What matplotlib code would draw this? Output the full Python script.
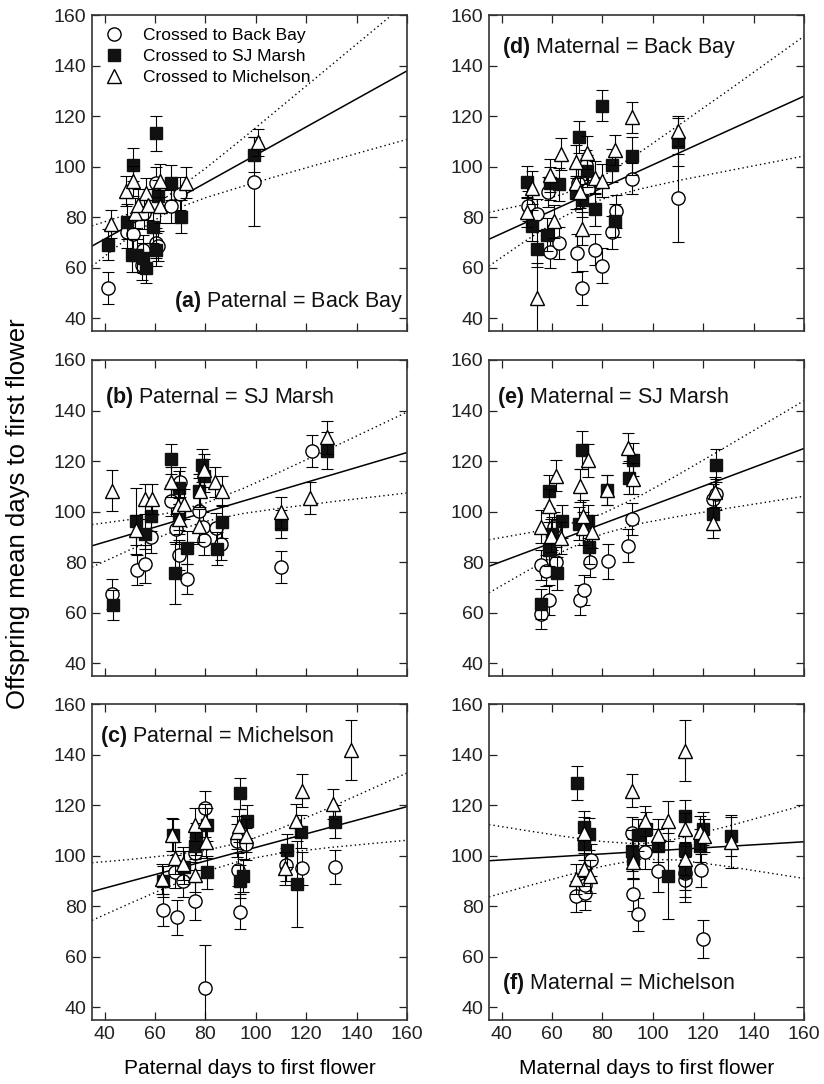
import matplotlib
matplotlib.use("Agg")
import matplotlib.pyplot as plt
from matplotlib.lines import Line2D

plt.rcParams['font.family'] = ['Liberation Sans Narrow', 'Liberation Sans', 'DejaVu Sans']
plt.rcParams['mathtext.fontset'] = 'custom'
plt.rcParams['mathtext.rm'] = 'Liberation Sans'
plt.rcParams['mathtext.bf'] = 'Liberation Sans:bold'

# each point: (parent days to first flower, offspring mean, error)
a_backbay = [(41.3, 52, 6.5), (48.8, 74, 6), (51.2, 73.5, 6), (55.2, 67, 6), (55, 61, 6),
             (55.8, 81.5, 6), (60.4, 93.7, 6), (60.4, 69.8, 6), (61, 68.5, 6), (66.4, 84.4, 6.5),
             (70.1, 89.3, 6.5), (99.4, 94, 17.6)]
a_sjmarsh = [(41.3, 69.2, 6), (48.8, 78.3, 7), (51.2, 100.7, 6.5), (51, 65, 6.5), (53, 65, 6.5),
             (56.5, 60, 6), (55.2, 63.8, 6), (60.4, 113.2, 6.8), (59.1, 76.2, 6.5), (60.4, 67.2, 6.5),
             (61, 88.4, 6.5), (66.4, 93.7, 7), (70.3, 80.2, 6.5), (99.4, 104.7, 7)]
a_michelson = [(42.4, 77.4, 5.5), (48.6, 90.4, 6), (51.2, 94.4, 6), (51.9, 81.7, 6), (53.2, 85, 6),
               (56.5, 89.7, 6), (57.1, 85, 6), (61.8, 94.4, 6.5), (61.8, 84.4, 6.5), (72.3, 93.7, 6),
               (100.7, 109.6, 5.5)]

b_backbay = [(42.9, 67.5, 6), (52.8, 77, 6), (55.9, 79.2, 7.5), (58.4, 89.8, 6), (66.4, 104.4, 6),
             (68.4, 93.1, 6), (69.4, 82.9, 6), (69.9, 111.7, 6), (72.7, 73.5, 6), (77.6, 100.4, 13),
             (79.3, 88.7, 6), (79, 93.8, 6), (84.3, 93.4, 6), (86.3, 87.2, 6.5), (110.1, 78.1, 6.5),
             (122.4, 124, 6.3)]
b_sjmarsh = [(43.2, 63, 6), (52.5, 96.2, 13), (55.9, 91.1, 6), (58.4, 98.4, 6), (66.4, 120.9, 6),
             (68.1, 75.9, 12.3), (69.4, 109.4, 6.5), (69.4, 99.1, 6.5), (72.7, 85.8, 6.5),
             (77.6, 108.3, 6.5), (78.7, 118.3, 6.5), (79.3, 114.3, 6.5), (84.6, 85.4, 6.5),
             (86.5, 96, 6.5), (110.1, 95.1, 5.5), (128.3, 124.2, 7.5)]
b_michelson = [(42.9, 108.3, 8), (52.6, 92.7, 6), (56.2, 105, 6), (58.8, 105, 6), (66.4, 111.7, 6),
               (69.1, 102.4, 6), (71.7, 103, 6), (69.4, 97.1, 6), (77.6, 94.4, 6.5), (78, 108.3, 6.5),
               (79.3, 116.3, 6.5), (83.9, 111.7, 6), (86.5, 108.3, 6), (110.1, 99.7, 6),
               (121.7, 105.4, 6.5), (128.3, 129.5, 6.5)]

c_backbay = [(63, 78.5, 6.5), (68.7, 75.6, 7), (68, 93.6, 6.5), (71, 90.1, 6.5), (75.9, 82.2, 7.5),
             (75.9, 100.9, 6.5), (79.9, 118.8, 6.8), (79.9, 47.5, 17), (93.1, 94.4, 6.5),
             (93.8, 77.9, 7), (92.4, 106, 6.5), (96, 104.6, 6.5), (111.9, 96.5, 6.5),
             (118.2, 95, 6.5), (131.4, 95.4, 6.8)]
c_sjmarsh = [(63, 89.8, 6), (67.1, 108.2, 6.5), (71.6, 95.4, 6.5), (76.3, 106.6, 6.5), (76, 104, 6.5),
             (80.5, 112.2, 6.5), (80.5, 93.4, 6.5), (93.7, 124.6, 6.3), (93.7, 89.8, 6.5),
             (94.8, 92.1, 6.5), (96.5, 113.6, 6.5), (112.2, 102.2, 6.5), (116.5, 88.8, 17.2),
             (118.1, 109.5, 6.5), (131.3, 113.4, 6.5)]
c_michelson = [(62.7, 90.7, 6), (66.8, 108.3, 6.5), (68, 99.1, 6.5), (71.3, 96.9, 6.5),
               (75.9, 92.3, 6.5), (75.9, 112.2, 6.5), (79.9, 113.8, 6.5), (80.2, 105.5, 6.5),
               (92.7, 109.2, 6.5), (93.4, 111.8, 6.5), (96.2, 107.9, 6.5), (111.6, 95, 6.5),
               (115.8, 113.8, 6.5), (118.5, 125.7, 6.5), (130.8, 120.4, 6), (137.8, 141.8, 12)]

d_backbay = [(50.6, 84.4, 6), (53.9, 81.1, 6), (58.5, 90, 6), (59.1, 66.1, 6), (62.8, 69.8, 6.5),
             (70, 65.8, 7.5), (72.1, 51.9, 6.8), (70.4, 93.4, 6), (73.6, 100.6, 6), (74.3, 91, 6),
             (76.9, 67.2, 6), (80, 60.8, 7), (83.9, 74.1, 6.5), (85.3, 82.4, 6.5), (91.8, 95.3, 6),
             (109.9, 87.5, 17.4)]
d_sjmarsh = [(49.9, 94, 6.3), (51.9, 76.7, 6), (54.1, 67.4, 7), (58.1, 73.1, 6.5), (59.1, 93.4, 6.5),
             (62.8, 93, 6.5), (70.7, 111.6, 6.3), (69.7, 89.7, 6.5), (72.1, 86.7, 6.5), (74, 98.3, 6.5),
             (76.9, 83.1, 6.4), (80, 124.2, 6.3), (83.9, 100.6, 6.5), (84.9, 78.7, 6.5),
             (91.8, 104.2, 7.5), (109.9, 109.6, 9.5)]
d_michelson = [(49.9, 82, 6), (51.9, 91.7, 6.5), (54.1, 48, 14), (59.1, 96.6, 6.5), (60.7, 78.4, 6.5),
               (63.5, 105, 6.5), (69.7, 101.9, 6.5), (69.7, 93.7, 6.5), (71, 90, 6.5),
               (72.1, 75.4, 6.5), (74, 105.6, 6.5), (76.9, 95.7, 6.5), (80, 94.4, 6.5),
               (84.9, 106.7, 6), (91.8, 119.5, 6), (109.9, 114.2, 6)]

e_backbay = [(55.6, 59.7, 6), (58.9, 65, 6), (55.6, 78.9, 6), (57.5, 76.7, 6), (61.6, 80, 6),
             (60.6, 93.8, 6), (71.1, 65, 6), (72.8, 69.1, 6), (75, 80, 6), (82.1, 80.3, 7),
             (90.3, 86.5, 6.5), (91.7, 97.1, 6.5), (124, 105.1, 6), (125.1, 106.8, 6)]
e_sjmarsh = [(55.6, 63.4, 6), (58.9, 108, 6.5), (58.9, 85, 6.5), (60, 91.2, 6.5), (61.9, 75.6, 6.5),
             (63.9, 96.2, 6.5), (71.9, 124.3, 7.6), (70.8, 95.2, 6.5), (74.1, 96.2, 6.5),
             (74.8, 85.9, 6.5), (81.8, 108.5, 6), (90.7, 113.5, 6.5), (92, 120.6, 6.5),
             (125.1, 118.3, 6.6), (124, 99.1, 6.5)]
e_michelson = [(55.6, 94.1, 6.5), (58.7, 102.4, 6.5), (61.6, 114.3, 6.3), (59.6, 90.5, 6.5),
               (63.5, 89.6, 6.5), (71.1, 110.3, 6.5), (74.1, 120.3, 6.5), (72.2, 93.5, 6.5),
               (72.4, 98.1, 6.5), (75.7, 92.1, 6.5), (81.8, 108.5, 6), (90, 125.2, 6),
               (92.3, 113.1, 6), (124.8, 107.8, 6), (124, 95.5, 6)]

f_backbay = [(69.5, 83.9, 6), (73.2, 85.1, 6.5), (73.2, 88.4, 6.5), (75.4, 98.3, 6.5), (92, 84.8, 6.5),
             (94, 76.9, 6.5), (91.7, 108.9, 6.5), (97, 101.3, 6.5), (102.2, 93.8, 8),
             (112.9, 90.3, 6.5), (112.9, 93.1, 6.5), (119.1, 94.3, 6.5), (120, 67, 7.6)]
f_sjmarsh = [(69.8, 128.7, 6.8), (72.8, 111.5, 6.3), (74.8, 108.6, 6.3), (72.8, 104.6, 6.5),
             (91.7, 102, 8), (92, 98.7, 8), (94, 108.2, 6.5), (97.3, 110.6, 6.5), (102.2, 104, 6.5),
             (105.9, 92.1, 17), (112.9, 115.5, 6.5), (112.9, 102.2, 6.5), (112.9, 93.6, 12),
             (120, 110.6, 6.5), (118.7, 104, 6.5), (131, 107.9, 8)]
f_michelson = [(69.5, 90.7, 6), (72.8, 94.7, 6.5), (75.1, 91.8, 6.5), (72.5, 108.9, 6.5),
               (91.7, 125.7, 6.5), (92, 97.4, 6.5), (97, 113.8, 6), (102.2, 108.2, 6.5),
               (105.9, 113.8, 8), (112.9, 141.5, 12), (112.9, 110.5, 6.5), (112.9, 98.7, 6.5),
               (118.7, 109.2, 6.5), (120.4, 107.9, 6.5), (131, 105.3, 10)]

# regression line ends and confidence band
fit_x = [35, 160]
band_x = [35, 50, 65, 80, 95, 110, 130, 160]

a_fit = [68.6, 137.9]
a_hi = [76.6, 81.4, 88.3, 99.3, 111.3, 123.7, 140.2, 165.0]
a_lo = [60.6, 72.4, 82.1, 87.7, 92.3, 96.7, 102.4, 110.8]
b_fit = [86.5, 123.4]
b_hi = [94.9, 96.9, 99.4, 103.4, 109.2, 115.9, 125.2, 139.4]
b_lo = [78.1, 84.9, 91.3, 96.2, 99.3, 101.4, 103.9, 107.4]
c_fit = [85.8, 119.4]
c_hi = [97.2, 98.5, 100.1, 102.1, 105.4, 110.8, 119.3, 132.7]
c_lo = [74.4, 81.1, 87.6, 93.7, 98.3, 101.0, 103.3, 106.1]
d_fit = [71.3, 127.9]
d_hi = [81.9, 85.2, 89.3, 96.2, 105.8, 116.2, 130.2, 151.6]
d_lo = [60.7, 71.0, 80.5, 87.2, 91.2, 94.5, 98.4, 104.2]
e_fit = [78.4, 125.0]
e_hi = [88.9, 91.5, 94.6, 99.2, 106.3, 114.6, 126.2, 143.9]
e_lo = [67.9, 76.5, 84.6, 91.2, 95.3, 98.1, 101.4, 106.1]
f_fit = [98.0, 105.5]
f_hi = [112.3, 109.9, 107.6, 105.6, 104.6, 106.7, 111.7, 120.0]
f_lo = [83.7, 87.9, 92.0, 95.8, 98.6, 98.3, 95.7, 91.0]

series_labels = ["Crossed to Back Bay", "Crossed to SJ Marsh", "Crossed to Michelson"]
ticks = [40, 60, 80, 100, 120, 140, 160]

styles = [dict(marker='o', ms=9.5, mfc='white', mec='black', mew=1.0),
          dict(marker='s', ms=8.5, mfc='#111111', mec='#111111', mew=1.0),
          dict(marker='^', ms=10, mfc='white', mec='black', mew=1.0)]

fig = plt.figure(figsize=(8.24, 10.84), dpi=100)

left_x, right_x, w = 92 / 824, 489 / 824, 315 / 824
h = 316 / 1084
rows = [1 - 331 / 1084, 1 - 676 / 1084, 1 - 1020 / 1084]


def draw_panel(pos, groups, fit_y, hi, lo, label, lx, ly, ha='left', xlabels=False):
    ax = fig.add_axes(pos)
    ax.plot(fit_x, fit_y, color='black', lw=1.1, zorder=1)
    ax.plot(band_x, hi, color='black', lw=1.0, ls=(0, (1, 2.2)), zorder=1)
    ax.plot(band_x, lo, color='black', lw=1.0, ls=(0, (1, 2.2)), zorder=1)
    for k, (pts, st) in enumerate(zip(groups, styles)):
        xs = [p[0] for p in pts]
        ys = [p[1] for p in pts]
        es = [p[2] for p in pts]
        ax.errorbar(xs, ys, yerr=es, fmt='none', ecolor='black', elinewidth=0.8,
                    capsize=4, capthick=0.8, zorder=2 + 2 * k)
        ax.plot(xs, ys, ls='none', zorder=3 + 2 * k, **st)
    ax.set_xlim(35, 160)
    ax.set_ylim(35, 160)
    ax.set_xticks(ticks)
    ax.set_yticks(ticks)
    ax.tick_params(direction='in', length=6, width=0.9, top=True, right=True,
                   labelsize=14, colors='#222222', pad=4)
    if not xlabels:
        ax.set_xticklabels([])
    for s in ax.spines.values():
        s.set_color('#333333')
        s.set_linewidth(1.2)
    ax.text(lx, ly, label, transform=ax.transAxes, ha=ha, va='center',
            fontsize=15.5, family='Liberation Sans', color='#111111')
    return ax


ax_a = draw_panel([left_x, rows[0], w, h], [a_backbay, a_sjmarsh, a_michelson], a_fit, a_hi, a_lo,
                  r"$\mathbf{(a)}$ Paternal = Back Bay", 0.988, 0.092, ha='right')
draw_panel([left_x, rows[1], w, h], [b_backbay, b_sjmarsh, b_michelson], b_fit, b_hi, b_lo,
           r"$\mathbf{(b)}$ Paternal = SJ Marsh", 0.041, 0.88)
ax_c = draw_panel([left_x, rows[2], w, h], [c_backbay, c_sjmarsh, c_michelson], c_fit, c_hi, c_lo,
                  r"$\mathbf{(c)}$ Paternal = Michelson", 0.025, 0.896, xlabels=True)
draw_panel([right_x, rows[0], w, h], [d_backbay, d_sjmarsh, d_michelson], d_fit, d_hi, d_lo,
           r"$\mathbf{(d)}$ Maternal = Back Bay", 0.041, 0.896)
draw_panel([right_x, rows[1], w, h], [e_backbay, e_sjmarsh, e_michelson], e_fit, e_hi, e_lo,
           r"$\mathbf{(e)}$ Maternal = SJ Marsh", 0.025, 0.88)
ax_f = draw_panel([right_x, rows[2], w, h], [f_backbay, f_sjmarsh, f_michelson], f_fit, f_hi, f_lo,
                  r"$\mathbf{(f)}$ Maternal = Michelson", 0.041, 0.117, xlabels=True)

handles = [Line2D([], [], ls='none', **st) for st in styles]
ax_a.legend(handles, series_labels, loc='upper left', frameon=False, handlelength=1.0,
            handletextpad=1.2, labelspacing=0.33, borderaxespad=0.35,
            prop={'family': 'Liberation Sans', 'size': 12.5})

ax_c.set_xlabel("Paternal days to first flower", fontsize=15, labelpad=12)
ax_f.set_xlabel("Maternal days to first flower", fontsize=15, labelpad=12)
fig.text(0.022, 0.526, "Offspring mean days to first flower", rotation=90,
         ha='center', va='center', fontsize=18.5)

fig.savefig("out.png", dpi=100)
